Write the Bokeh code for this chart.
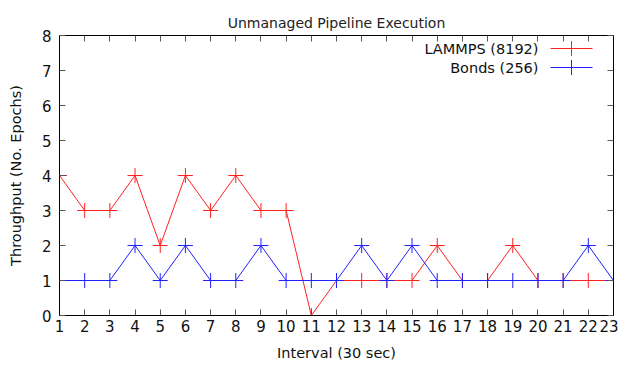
from bokeh.plotting import figure
from bokeh.models import (Range1d, LinearAxis, FixedTicker, BoxAnnotation, Label)
from bokeh.embed import file_html
from bokeh.resources import INLINE

intervals = list(range(1, 24))
lammps = [4, 3, 3, 4, 2, 4, 3, 4, 3, 3, 0, 1, 1, 1, 1, 2, 1, 1, 2, 1, 1, 1, 1]
bonds = [1, 1, 1, 2, 1, 2, 1, 1, 2, 1, 1, 1, 2, 1, 2, 1, 1, 1, 1, 1, 1, 2, 1]
series_names = ["LAMMPS (8192)", "Bonds (256)"]
y_ticks = list(range(0, 9))

FONT = "DejaVu Sans"
RED = "#ff2020"
BLUE = "#2020ff"

p = figure(width=618, height=367, output_backend="svg", toolbar_location=None,
           x_range=Range1d(1, 23), y_range=Range1d(0, 8),
           min_border_left=59, min_border_right=5, min_border_top=35, min_border_bottom=52,
           title="Unmanaged Pipeline Execution")
p.title.align = "center"
p.title.text_font = FONT
p.title.text_font_size = "14px"
p.title.text_font_style = "normal"
p.title.text_color = "#222222"
p.title.offset = 0
p.grid.visible = False
p.outline_line_color = "black"
p.outline_line_width = 1
p.background_fill_color = "white"
p.border_fill_color = "white"

for ax in (p.xaxis[0], p.yaxis[0]):
    ax.major_tick_in = 6
    ax.major_tick_out = 0
    ax.minor_tick_line_color = None
    ax.major_label_text_font = FONT
    ax.major_label_text_font_size = "15px"
    ax.major_label_text_color = "#111111"
    ax.axis_label_text_font = FONT
    ax.axis_label_text_font_size = "14.5px"
    ax.axis_label_text_font_style = "normal"
    ax.axis_label_text_color = "#111111"
    ax.axis_line_color = "black"
    ax.major_tick_line_color = "#555555"

p.xaxis[0].ticker = FixedTicker(ticks=intervals)
p.yaxis[0].ticker = FixedTicker(ticks=y_ticks)
p.xaxis[0].axis_label = "Interval (30 sec)"
p.yaxis[0].axis_label = "Throughput (No. Epochs)"
p.xaxis[0].major_label_standoff = 4
p.yaxis[0].major_label_standoff = 8
p.xaxis[0].axis_label_standoff = 10
p.yaxis[0].axis_label_standoff = 15

top = LinearAxis(ticker=FixedTicker(ticks=intervals), major_label_text_font_size="0px",
                 major_tick_in=6, major_tick_out=0, minor_tick_line_color=None,
                 axis_line_color="black", major_tick_line_color="#555555")
right = LinearAxis(ticker=FixedTicker(ticks=y_ticks), major_label_text_font_size="0px",
                   major_tick_in=6, major_tick_out=0, minor_tick_line_color=None,
                   axis_line_color="black", major_tick_line_color="#555555")
top.major_label_overrides = {t: "" for t in intervals}
right.major_label_overrides = {t: "" for t in y_ticks}
p.add_layout(top, "above")
p.add_layout(right, "right")

p.line(intervals, lammps, line_color=RED, line_width=1)
p.scatter(intervals, lammps, marker="cross", size=15, line_color=RED, line_width=1)
p.line(intervals, bonds, line_color=BLUE, line_width=1)
p.scatter(intervals, bonds, marker="cross", size=15, line_color=BLUE, line_width=1)

# legend: text on the left, sample (line + cross) on the right, gnuplot style
for i, (name, col) in enumerate(zip(series_names, [RED, BLUE])):
    yc = 267 - 19 * i
    p.add_layout(Label(x=479, y=yc, x_units="screen", y_units="screen",
                       text=name, text_align="right", text_baseline="middle",
                       text_font=FONT, text_font_size="14.5px", text_color="#111111"))
    p.add_layout(BoxAnnotation(left=491, right=533, bottom=yc - 0.5, top=yc + 0.5,
                               left_units="screen", right_units="screen",
                               top_units="screen", bottom_units="screen",
                               fill_color=col, fill_alpha=1, line_color=None))
    p.add_layout(BoxAnnotation(left=511.5, right=512.5, bottom=yc - 7.5, top=yc + 7.5,
                               left_units="screen", right_units="screen",
                               top_units="screen", bottom_units="screen",
                               fill_color=col, fill_alpha=1, line_color=None))

open("out.html", "w").write(file_html(p, INLINE))
